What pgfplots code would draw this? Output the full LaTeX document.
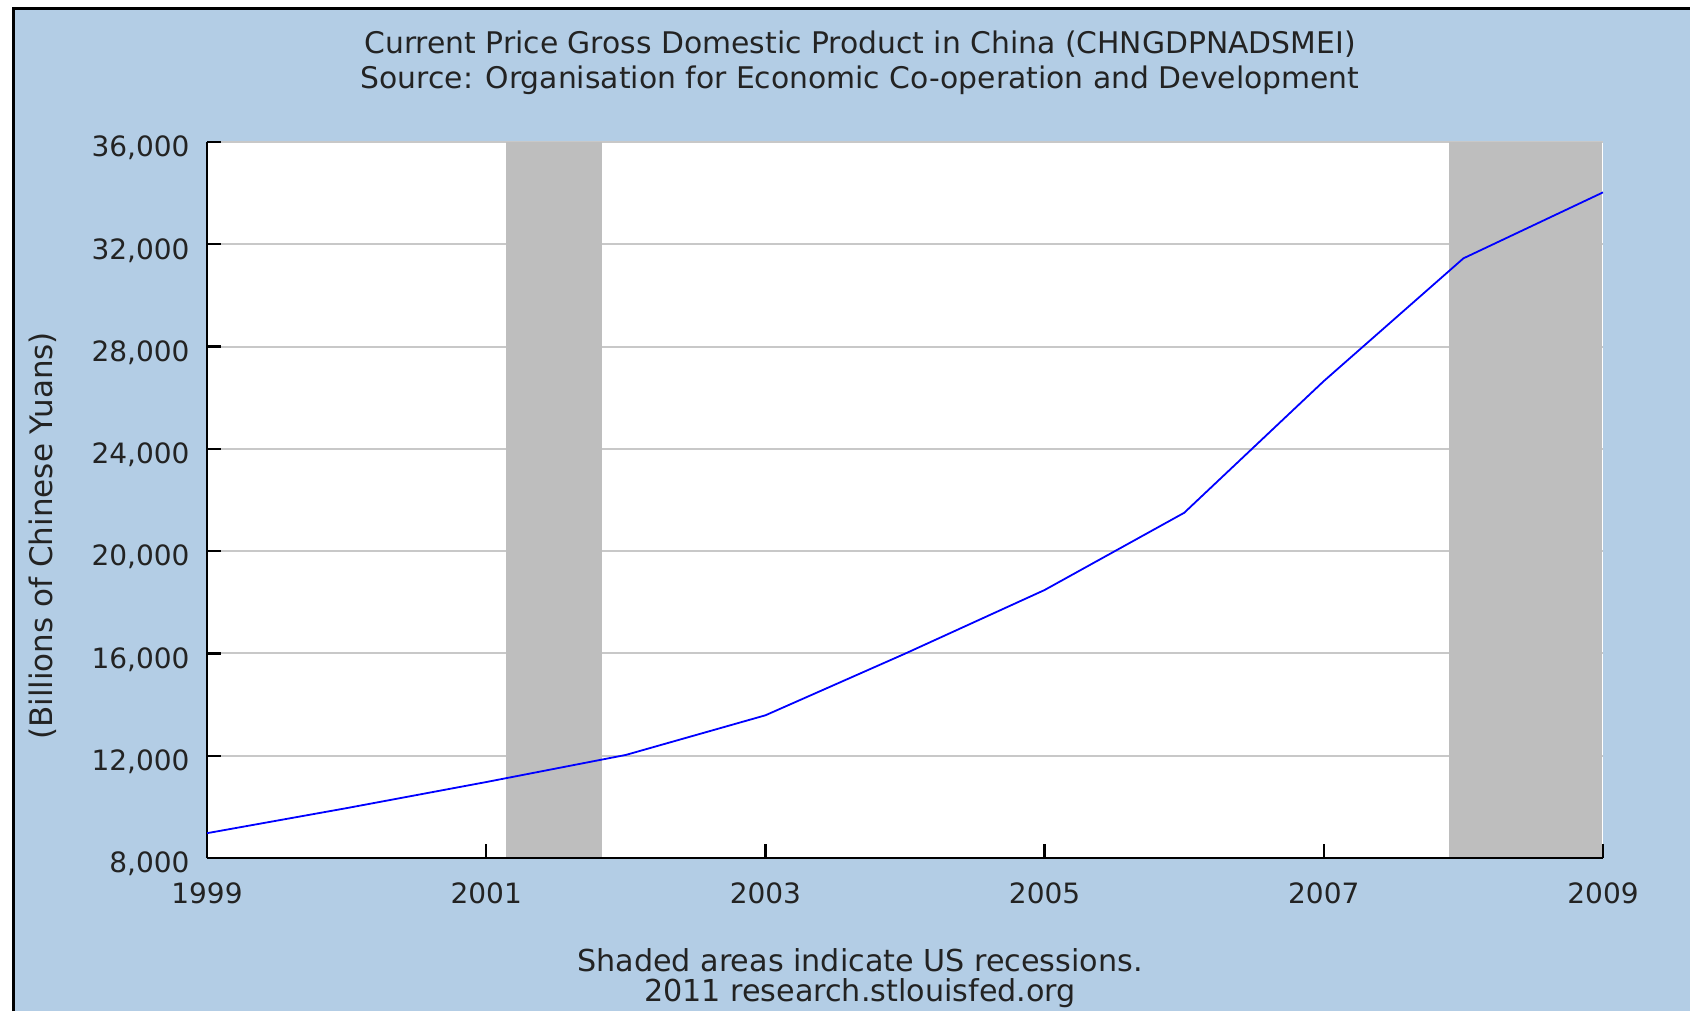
\documentclass[border=0pt]{standalone}
\usepackage{pgfplots}
\pgfplotsset{compat=1.18}
\usepackage{fontspec}
\setmainfont{DejaVu Sans}
\definecolor{bgblue}{RGB}{179,205,229}
\definecolor{recgray}{RGB}{190,190,190}
\definecolor{gridgray}{RGB}{200,200,200}
\definecolor{txt}{RGB}{35,35,35}
\begin{document}
\begin{tikzpicture}
\useasboundingbox (0pt,0pt) rectangle (845pt,505.5pt);
\fill[white] (0pt,0pt) rectangle (845pt,505.5pt);
\fill[bgblue] (6.75pt,0pt) rectangle (845pt,501pt);
\draw[black, line width=1.5pt] (6.75pt,0pt) -- (6.75pt,501pt) -- (845pt,501pt);
\begin{axis}[
  at={(103.5pt,76.5pt)}, anchor=south west,
  scale only axis, width=698pt, height=358pt,
  xmin=1999, xmax=2009, ymin=8000, ymax=36000,
  axis x line*=bottom, axis y line*=left,
  axis line style={-, black, line width=1.2pt},
  xtick={1999,2001,2003,2005,2007,2009},
  ytick={8000,12000,16000,20000,24000,28000,32000,36000},
  scaled x ticks=false, scaled y ticks=false,
  tick align=inside, major tick length=7pt,
  tick style={black, line width=1.2pt},
  ymajorgrids, grid style={gridgray, line width=1pt},
  /pgf/number format/assume math mode=true,
  ticklabel style={font=\fontsize{14}{16}\selectfont, text=txt},
  xticklabel style={/pgf/number format/1000 sep={}, yshift=-8.7pt},
  yticklabel style={/pgf/number format/1000 sep={,}, xshift=-5.2pt, yshift=-3pt},
  axis background/.style={fill=white},
]
\addplot[fill=recgray, draw=none, forget plot] coordinates {(2001.14,8047) (2001.14,36000) (2001.833,36000) (2001.833,8047)} --cycle;
\addplot[fill=recgray, draw=none, forget plot] coordinates {(2007.895,8047) (2007.895,36000) (2008.993,36000) (2008.993,8047)} --cycle;
\addplot[blue, line width=0.9pt, mark=none] coordinates {
(1999,8970) (2000,9950) (2001,10970) (2002,12030) (2003,13580) (2004,15990)
(2005,18480) (2006,21500) (2007,26650) (2008,31450) (2009,34030)};
\end{axis}
\node[font=\fontsize{14.9}{17}\selectfont, text=txt] at (430pt,483.5pt) {Current Price Gross Domestic Product in China (CHNGDPNADSMEI)};
\node[font=\fontsize{14.9}{17}\selectfont, text=txt] at (430pt,465.5pt) {Source: Organisation for Economic Co-operation and Development};
\node[font=\fontsize{15.5}{17}\selectfont, text=txt, rotate=90] at (21.5pt,237.5pt) {(Billions of Chinese Yuans)};
\node[font=\fontsize{15.1}{17}\selectfont, text=txt] at (430pt,25.5pt) {Shaded areas indicate US recessions.};
\node[font=\fontsize{15.1}{17}\selectfont, text=txt] at (430pt,9pt) {2011 research.stlouisfed.org};
\end{tikzpicture}
\end{document}
